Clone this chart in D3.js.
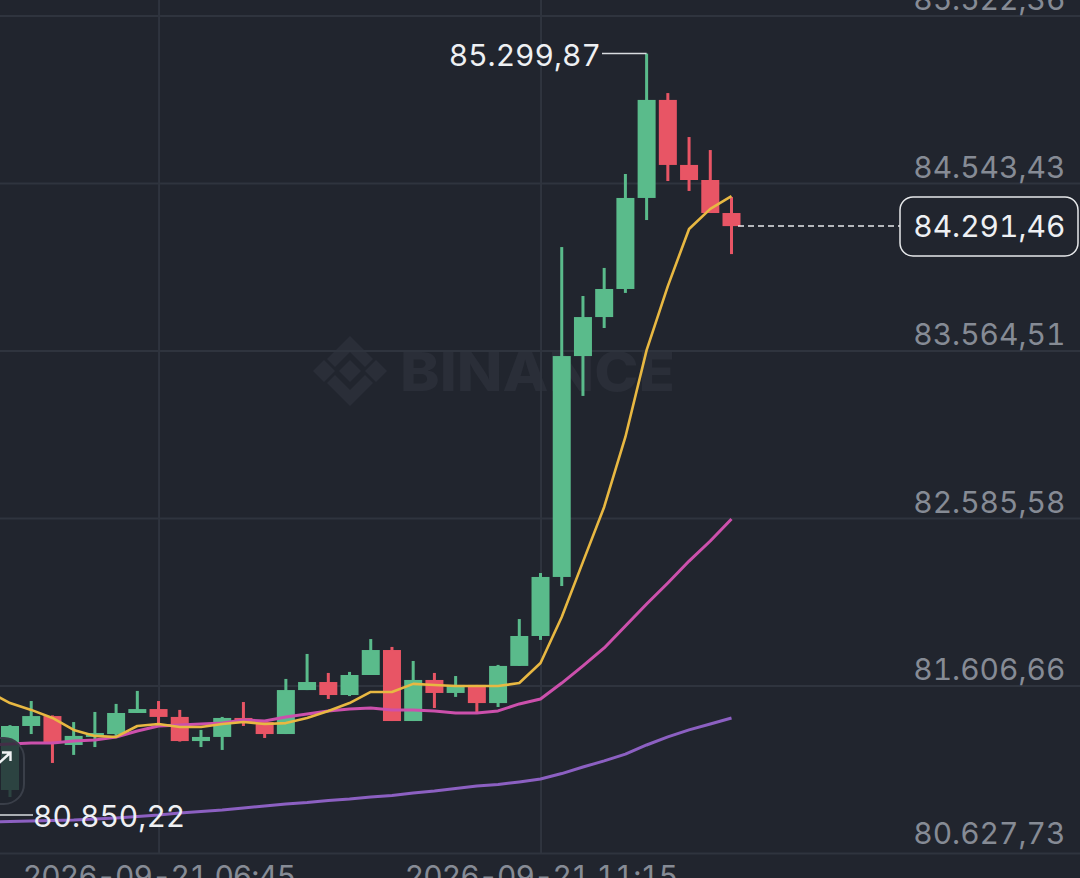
<!DOCTYPE html>
<html><head><meta charset="utf-8">
<script src="https://cdnjs.cloudflare.com/ajax/libs/d3/7.8.5/d3.min.js"></script>
<style>html,body{margin:0;padding:0;background:#21252e;overflow:hidden}svg{display:block}text{font-family:Inter,"Noto Sans",sans-serif;font-variant-numeric:tabular-nums;font-feature-settings:"tnum" 1}</style>
</head><body><svg id="c" width="1080" height="878"></svg>
<script>
const opens=[80996,81370,81428,81259,81306,81323,81446,81469,81423,81282,81306,81417,81393,81323,81580,81627,81551,81668,81814,81399,81639,81563,81610,81504,81721,81896,82241,83532,83760,83924,84456,85029,84649,84561,84368];
const closes=[81370,81428,81276,81312,81329,81446,81469,81423,81282,81306,81417,81393,81323,81580,81627,81551,81668,81814,81399,81639,81563,81610,81504,81721,81896,82241,83532,83760,83924,84456,85029,84649,84561,84368,84291.46];
const highs=[81375,81516,81432,81393,81452,81499,81575,81516,81464,81347,81423,81510,81405,81645,81791,81680,81686,81878,81832,81750,81680,81662,81610,81727,81995,82264,84169,83883,84047,84596,85299.87,85069,84812,84736,84462];
const lows=[80955,81323,81154,81201,81247,81300,81446,81376,81279,81247,81230,81370,81300,81323,81580,81528,81545,81668,81399,81399,81475,81540,81452,81481,81721,81873,82188,83299,83696,83901,84327,84555,84497,84368,84128];
// moving averages start one candle before the first visible candle (index -1)
const maFast=[81569,81504,81464,81417,81347,81312,81306,81370,81382,81364,81364,81382,81393,81382,81387,81417,81458,81504,81569,81569,81616,81610,81604,81604,81604,81621,81738,82007,82329,82650,83059,83567,83941,84275,84392,84467];
const maMid=[81259,81265,81271,81271,81282,81288,81306,81341,81370,81376,81382,81388,81405,81399,81423,81440,81458,81469,81475,81464,81464,81458,81446,81446,81458,81499,81528,81621,81721,81826,81954,82083,82206,82334,82451,82580];
const maSlow=[80809,80812,80815,80818,80821,80827,80832,80841,80850,80862,80870,80879,80891,80902,80914,80923,80935,80943,80955,80964,80978,80990,81005,81019,81028,81043,81060,81092,81130,81166,81206,81259,81306,81347,81382,81417];
const priceTicks=[85522.36,84543.43,83564.51,82585.58,81606.66,80627.73];
const timeTickIndex=[7,25];
const timeTickLabels=["2026-09-21 06:45","2026-09-21 11:15"];
const lastPrice=84291.46, highPrice=85299.87, lowPrice=80850.22;

const W=1080,H=878,BG="#21252e",GRID="#2f343e",UP="#5abb8b",DOWN="#e85565",MUTED="#868b95",LIGHT="#eef0f3";
const loc=d3.formatLocale({decimal:",",thousands:".",grouping:[3],currency:["",""]});
const fmt=loc.format(",.2f");
const svg=d3.select("#c");
svg.append("rect").attr("width",W).attr("height",H).attr("fill",BG);
const x=d3.scaleLinear().domain([0,34]).range([10,731.5]);
const y=d3.scaleLinear().domain([80627.73,85522.36]).range([853,15.5]);

// watermark
const wm=svg.append("g").attr("fill","#2a2e38");
const dia=(cx,cy,r)=>`M${cx-r},${cy}L${cx},${cy-r}L${cx+r},${cy}L${cx},${cy+r}Z`;
[[350,371,11],[324,371,11],[376,371,11]].forEach(d=>wm.append("path").attr("d",dia(...d)));
wm.append("path").attr("d","M350,336L373,359L365,367L350,352L335,367L327,359Z");
wm.append("path").attr("d","M350,406L373,383L365,375L350,390L335,375L327,383Z");
wm.append("text").attr("x",400).attr("y",391).attr("font-size",54).attr("font-weight",800).attr("textLength",275).attr("lengthAdjust","spacingAndGlyphs").text("BINANCE");

// axes
const yAxis=d3.axisRight(y).tickValues(priceTicks).tickSize(W).tickFormat(fmt);
const gy=svg.append("g").call(yAxis);
gy.select(".domain").remove();
gy.selectAll("line").attr("stroke",GRID).attr("stroke-width",2);
gy.selectAll("text").attr("x",1065.5).attr("dy",d=>d===priceTicks[priceTicks.length-1]?-10:-6).attr("y",0).attr("text-anchor","end").attr("dominant-baseline","auto").attr("fill",MUTED).attr("font-size",30);

const xAxis=d3.axisBottom(x).tickValues(timeTickIndex).tickSize(-853).tickPadding(13).tickFormat((d,i)=>timeTickLabels[i]);
const gx=svg.append("g").attr("transform","translate(0,853)").call(xAxis);
gx.select(".domain").remove();
gx.selectAll("line").attr("stroke",GRID).attr("stroke-width",2);
gx.selectAll("text").attr("fill",MUTED).attr("font-size",30).attr("letter-spacing",-1);

// candles
const candles=opens.map((o,i)=>({i,o,c:closes[i],h:highs[i],l:lows[i]}));
const g=svg.append("g").selectAll("g").data(candles).join("g").attr("fill",d=>d.c>=d.o?UP:DOWN);
g.append("rect").attr("x",d=>x(d.i)-1.5).attr("width",3).attr("y",d=>y(d.h)).attr("height",d=>y(d.l)-y(d.h));
g.append("rect").attr("x",d=>x(d.i)-9).attr("width",18).attr("y",d=>y(Math.max(d.o,d.c))).attr("height",d=>Math.max(1,Math.abs(y(d.o)-y(d.c))));

// moving averages
const line=d3.line().x((d,i)=>x(i-1)).y(d=>y(d));
[[maSlow,"#8c60c2",3],[maMid,"#cc50ac",3],[maFast,"#e8b842",2.6]].forEach(([s,col,w])=>
  svg.append("path").datum(s).attr("d",line).attr("fill","none").attr("stroke",col).attr("stroke-width",w).attr("stroke-linejoin","round"));

// floating button
svg.append("rect").attr("x",-50).attr("y",738).attr("width",74).attr("height",66).attr("rx",20).attr("fill",BG).attr("fill-opacity",0.8).attr("stroke","#3a3f49").attr("stroke-width",2);
svg.append("path").attr("d","M-2,764L10,753M2,752.5L10.5,752.5L10.5,761").attr("fill","none").attr("stroke","#f0f2f4").attr("stroke-width",2.4);

// high / low annotations
const hx=x(candles.findIndex(d=>d.h===highPrice));
svg.append("path").attr("d",`M602,${y(highPrice)}H${hx}`).attr("stroke","#d9dce0").attr("stroke-width",1.5).attr("fill","none");
svg.append("text").attr("x",601).attr("y",y(highPrice)+12).attr("text-anchor","end").attr("font-size",30).attr("fill",LIGHT).text(fmt(highPrice));
svg.append("path").attr("d",`M0,${y(lowPrice)}H33`).attr("stroke","#d9dce0").attr("stroke-width",1.5).attr("fill","none");
svg.append("text").attr("x",33).attr("y",y(lowPrice)+12).attr("font-size",30).attr("fill",LIGHT).text(fmt(lowPrice));

// last price
svg.append("line").attr("x1",738).attr("x2",900).attr("y1",y(lastPrice)).attr("y2",y(lastPrice)).attr("stroke","#e6e8ea").attr("stroke-width",1.5).attr("stroke-dasharray","6 4");
svg.append("rect").attr("x",900).attr("y",197).attr("width",178).attr("height",59).attr("rx",13).attr("fill",BG).attr("stroke","#e6e8ea").attr("stroke-width",1.5);
svg.append("text").attr("x",1065.5).attr("y",y(lastPrice)+11).attr("text-anchor","end").attr("font-size",30).attr("fill",LIGHT).text(fmt(lastPrice));
</script></body></html>
